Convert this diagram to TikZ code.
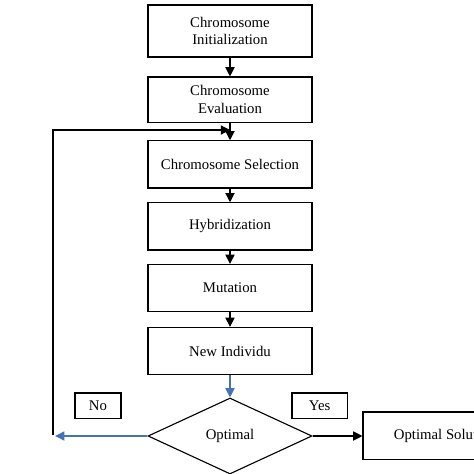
\documentclass[tikz,border=0pt]{standalone}
\usepackage{fontspec}
\setmainfont{Liberation Serif}
\usetikzlibrary{arrows.meta,shapes.geometric}

\definecolor{flowblue}{RGB}{70,114,184}

\begin{document}
\begin{tikzpicture}[
		box/.style={draw,line width=0.8pt,minimum width=4.1cm,minimum height=1.18cm,align=center,font=\fontsize{10.5}{12.5}\selectfont},
		tag/.style={draw,line width=0.8pt,minimum height=0.63cm,font=\fontsize{10.5}{12.5}\selectfont},
		decision/.style={draw,diamond,line width=0.8pt,minimum width=4.1cm,minimum height=1.9cm,aspect=2.16,inner sep=0pt,font=\fontsize{10.5}{12.5}\selectfont},
		flow/.style={line width=0.8pt,-{Triangle[length=2.3mm,width=2.3mm]}}]
		\useasboundingbox (0,0) rectangle (11.85,-11.85);
		\node[box,minimum height=1.3cm] (init) at (5.75,-0.775) {Chromosome\\Initialization};
		\node[box,minimum height=1.13cm] (eval) at (5.75,-2.49) {Chromosome\\Evaluation};
		\node[box] (select) at (5.75,-4.11) {Chromosome Selection};
		\node[box] (hybrid) at (5.75,-5.66) {Hybridization};
		\node[box] (mutate) at (5.75,-7.2) {Mutation};
		\node[box] (newind) at (5.75,-8.775) {New Individu};
		\node[decision] (optimal) at (5.75,-10.9) {Optimal};
		\node[box,minimum height=1.18cm] (solution) at (11.125,-10.89) {Optimal Solution};
		\node[tag,minimum width=1.15cm] (no) at (2.45,-10.14) {No};
		\node[tag,minimum width=1.38cm] (yes) at (7.99,-10.14) {Yes};
		% main flow
		\draw[flow] (init) -- (eval);
		\draw[flow] (eval) -- (select);
		\draw[flow] (select) -- (hybrid);
		\draw[flow] (hybrid) -- (mutate);
		\draw[flow] (mutate) -- (newind);
		\draw[flow,flowblue] (newind) -- (optimal);
		\draw[flow] (optimal.east) -- (solution.west |- optimal.east);
		% loop back
		\coordinate (loopend) at (1.38,-10.9);
		\coordinate (join) at (5.75,-3.25);
		\draw[flow,flowblue] (optimal.west) -- (loopend);
		\draw[flow] (1.325,-10.875) |- (join);
\end{tikzpicture}
\end{document}
